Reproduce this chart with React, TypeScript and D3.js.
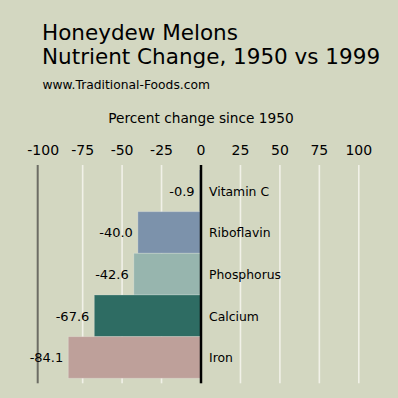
import React, { useEffect, useRef } from 'react';
import * as d3 from 'd3';

const nutrients = ['Vitamin C', 'Riboflavin', 'Phosphorus', 'Calcium', 'Iron'];
const changes = [-0.9, -40.0, -42.6, -67.6, -84.1];
const barColors = ['#4e6e89', '#7c92ab', '#97b5ae', '#2e6c63', '#bea09a'];
const ticks = [-100, -75, -50, -25, 0, 25, 50, 75, 100];

const font = '"DejaVu Sans", Verdana, sans-serif';

export default function App() {
    const ref = useRef<SVGSVGElement>(null);

    useEffect(() => {
        const svg = d3.select(ref.current);
        svg.selectAll('*').remove();

        const width = 398;
        const height = 398;

        svg.append('rect')
            .attr('width', width)
            .attr('height', height)
            .attr('fill', '#d3d7c1');

        // titles
        const head = svg.append('g').attr('font-family', font).attr('fill', '#000');
        head.append('text').attr('x', 42).attr('y', 39.5).attr('font-size', 21.5).text('Honeydew Melons');
        head.append('text').attr('x', 42).attr('y', 63.5).attr('font-size', 21.5).text('Nutrient Change, 1950 vs 1999');
        head.append('text').attr('x', 42.5).attr('y', 89.3).attr('font-size', 12.3).text('www.Traditional-Foods.com');

        // scales
        const x = d3.scaleLinear()
            .domain([-100, 100])
            .range([43.2, 358.8]);

        const y = d3.scaleBand()
            .domain(nutrients)
            .range([170, 378.3])
            .padding(0);

        const top = 165;
        const bottom = 383.3;

        head.append('text')
            .attr('x', x(0))
            .attr('y', 123.3)
            .attr('text-anchor', 'middle')
            .attr('font-size', 13.7)
            .text('Percent change since 1950');

        // tick labels
        svg.append('g')
            .selectAll('text')
            .data(ticks)
            .enter()
            .append('text')
            .attr('x', d => x(d))
            .attr('y', 154.5)
            .attr('text-anchor', 'middle')
            .attr('font-family', font)
            .attr('font-size', 14)
            .text(d => d);

        // grid lines
        svg.append('g')
            .selectAll('line')
            .data(ticks.filter(d => d !== 0 && d !== -100))
            .enter()
            .append('line')
            .attr('x1', d => x(d))
            .attr('x2', d => x(d))
            .attr('y1', top)
            .attr('y2', bottom)
            .attr('stroke', '#f1f1e8')
            .attr('stroke-width', 1.6);

        // left axis line
        svg.append('line')
            .attr('x1', x.range()[0] - 5.5)
            .attr('x2', x.range()[0] - 5.5)
            .attr('y1', top)
            .attr('y2', bottom)
            .attr('stroke', '#6c6c64')
            .attr('stroke-width', 2);

        const data = nutrients.map((name, i) => ({ name, value: changes[i], color: barColors[i] }));

        // bars
        svg.append('g')
            .selectAll('rect')
            .data(data)
            .enter()
            .append('rect')
            .attr('x', d => x(d.value))
            .attr('y', d => y(d.name)!)
            .attr('width', d => x(0) - x(d.value))
            .attr('height', y.bandwidth())
            .attr('fill', d => d.color)
            .attr('stroke', 'rgba(255,255,255,0.22)')
            .attr('stroke-width', 1);

        // zero line
        svg.append('line')
            .attr('x1', x(0))
            .attr('x2', x(0))
            .attr('y1', top)
            .attr('y2', bottom)
            .attr('stroke', '#000')
            .attr('stroke-width', 2.5);

        // value labels
        svg.append('g')
            .selectAll('text')
            .data(data)
            .enter()
            .append('text')
            .attr('x', d => x(d.value) - 5)
            .attr('y', d => y(d.name)! + y.bandwidth() / 2 + 5)
            .attr('text-anchor', 'end')
            .attr('font-family', font)
            .attr('font-size', 13)
            .text(d => d.value.toFixed(1));

        // category labels
        svg.append('g')
            .selectAll('text')
            .data(data)
            .enter()
            .append('text')
            .attr('x', x(0) + 8)
            .attr('y', d => y(d.name)! + y.bandwidth() / 2 + 5)
            .attr('font-family', font)
            .attr('font-size', 12.4)
            .text(d => d.name);
    }, []);

    return (
        <svg ref={ref} width={398} height={398} style={{ position: 'absolute', left: 0, top: 0 }} />
    );
}
